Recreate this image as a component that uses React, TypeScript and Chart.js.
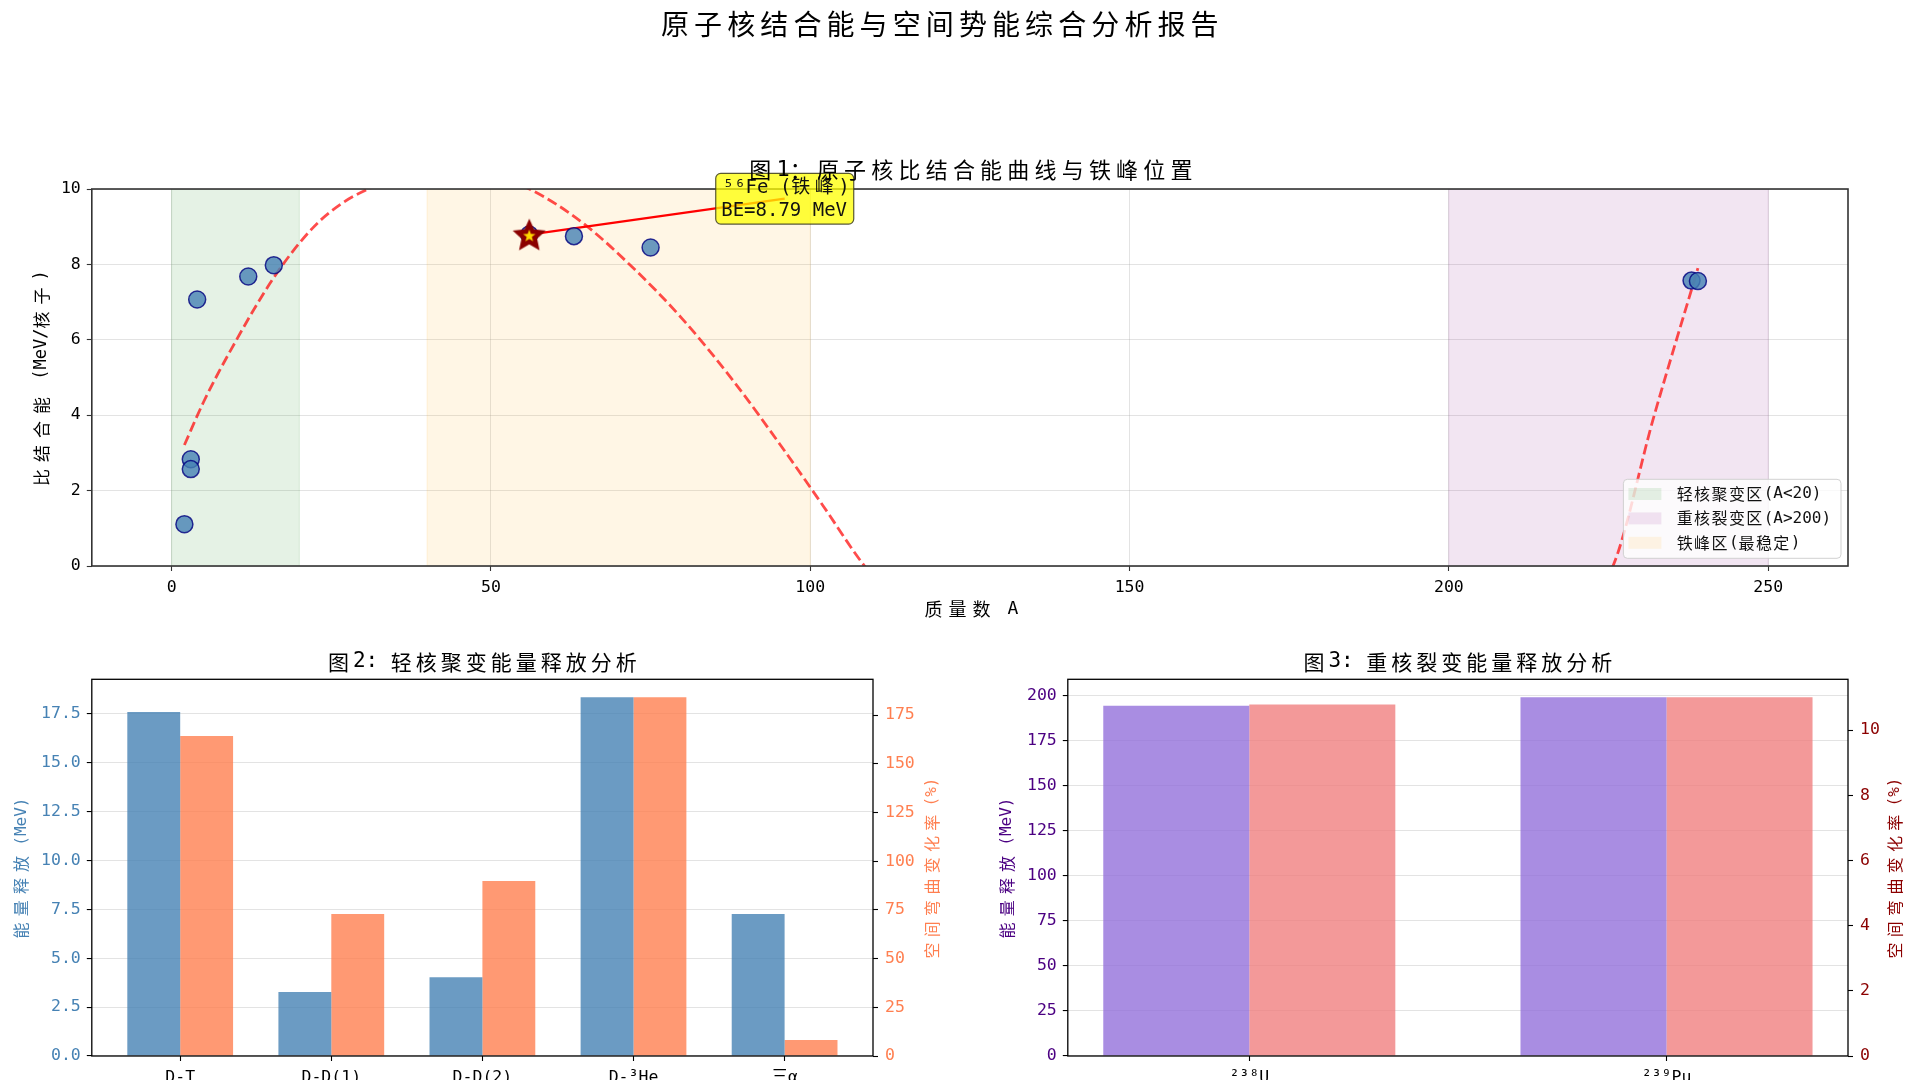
import React, { useEffect, useRef } from 'react';
import { Chart, registerables } from 'chart.js';

Chart.register(...registerables);

// ---------------- DATA ----------------
// Figure 1: specific binding energy vs mass number
const NUCLEUS_A = [2, 3, 3, 4, 12, 16, 56, 63, 75, 238, 239];
const NUCLEUS_BE = [1.11, 2.83, 2.57, 7.07, 7.68, 7.98, 8.79, 8.75, 8.45, 7.57, 7.56];
// dashed fitted trend (beyond-frame points estimated)
const FIT_A = [2, 5, 9.5, 16, 22, 26.5, 30.8, 43, 56, 64, 72, 80, 88, 96, 102, 108.5, 167, 225.7, 232, 239];
const FIT_BE = [3.21, 4.35, 5.8, 7.65, 8.95, 9.6, 10.0, 10.75, 10.0, 9.15, 7.95, 6.55, 4.9, 3.05, 1.6, 0, -11, 0, 3.9, 7.9];
const FE_A = 56;
const FE_BE = 8.79;
const FE_LABEL_LINES = ['⁵⁶Fe (铁峰)', 'BE=8.79 MeV'];
const FE_LABEL_POS = [85.2, 9.07]; // data coords of label box lower-left corner
const REGION_LABELS = ['轻核聚变区(A<20)', '重核裂变区(A>200)', '铁峰区(最稳定)'];
const REGION_START = [0, 200, 40];
const REGION_END = [20, 250, 100];
const X1_RANGE = [-12.5, 262.5];
const Y1_RANGE = [0, 10];
const X1_TICKS = [0, 50, 100, 150, 200, 250];
const Y1_TICKS = [0, 2, 4, 6, 8, 10];

// Figure 2: light nuclei fusion
const FUSION_LABELS = ['D-T', 'D-D(1)', 'D-D(2)', 'D-³He', '三α'];
const FUSION_ENERGY = [17.6, 3.27, 4.03, 18.35, 7.27];
const FUSION_CURVATURE = [164.3, 72.9, 89.8, 184.2, 8.2];
const FUSION_X_RANGE = [-0.585, 4.585];
const FUSION_Y_RANGE = [0, 19.27];
const FUSION_Y2_RANGE = [0, 193.4];
const FUSION_Y_TICKS = [0, 2.5, 5, 7.5, 10, 12.5, 15, 17.5];
const FUSION_Y2_TICKS = [0, 25, 50, 75, 100, 125, 150, 175];

// Figure 3: heavy nuclei fission
const FISSION_LABELS = ['²³⁸U', '²³⁹Pu'];
const FISSION_ENERGY = [194.2, 199.0];
const FISSION_CURVATURE = [10.79, 11.01];
const FISSION_X_RANGE = [-0.435, 1.435];
const FISSION_Y_RANGE = [0, 208.9];
const FISSION_Y2_RANGE = [0, 11.56];
const FISSION_Y_TICKS = [0, 25, 50, 75, 100, 125, 150, 175, 200];
const FISSION_Y2_TICKS = [0, 2, 4, 6, 8, 10];

// ---------------- STYLE ----------------
const LATIN_FONT = '"DejaVu Sans Mono"';
const CJK_FONT = '"Noto Sans CJK SC"';
const TICK_FAMILY = '"DejaVu Sans Mono", "Noto Sans CJK SC", monospace';
const TICK_SIZE = 16.5;
const REGION_COLORS = ['rgba(0,128,0,0.1)', 'rgba(128,0,128,0.1)', 'rgba(255,165,0,0.1)'];
const GRID = 'rgba(176,176,176,0.35)';

type TOpts = {
  size: number;
  cjkAdv: number;
  color: string;
  spaceAdv?: number;
  baseline?: CanvasTextBaseline;
};

const isCJK = (ch: string) => /[\u2E80-\u9FFF\uF900-\uFAFF\uFE30-\uFE4F\uFF00-\uFFEF\u3000-\u303F]/.test(ch);

function adv(ctx: CanvasRenderingContext2D, ch: string, o: TOpts) {
  if (isCJK(ch)) return o.cjkAdv;
  if (ch === ' ' && o.spaceAdv !== undefined) return o.spaceAdv;
  ctx.font = `${o.size}px ${LATIN_FONT}`;
  return ctx.measureText(ch).width;
}

function runWidth(ctx: CanvasRenderingContext2D, text: string, o: TOpts) {
  const chars = Array.from(text);
  let w = 0;
  chars.forEach((c, i) => {
    if (i === chars.length - 1 && isCJK(c)) w += o.size;
    else w += adv(ctx, c, o);
  });
  return w;
}

function drawRun(
  ctx: CanvasRenderingContext2D,
  text: string,
  x: number,
  y: number,
  o: TOpts,
  align: 'left' | 'center' = 'left',
  rotate = false
) {
  ctx.save();
  ctx.translate(x, y);
  if (rotate) ctx.rotate(-Math.PI / 2);
  const w = runWidth(ctx, text, o);
  let pen = align === 'center' ? -w / 2 : 0;
  ctx.fillStyle = o.color;
  ctx.textBaseline = o.baseline || 'middle';
  ctx.textAlign = 'left';
  for (const ch of Array.from(text)) {
    const a = adv(ctx, ch, o);
    ctx.font = `${o.size}px ${isCJK(ch) ? CJK_FONT : LATIN_FONT}`;
    ctx.fillText(ch, pen, 0);
    pen += a;
  }
  ctx.restore();
}

function roundRectPath(ctx: CanvasRenderingContext2D, x: number, y: number, w: number, h: number, r: number) {
  ctx.beginPath();
  ctx.moveTo(x + r, y);
  ctx.lineTo(x + w - r, y);
  ctx.arcTo(x + w, y, x + w, y + r, r);
  ctx.lineTo(x + w, y + h - r);
  ctx.arcTo(x + w, y + h, x + w - r, y + h, r);
  ctx.lineTo(x + r, y + h);
  ctx.arcTo(x, y + h, x, y + h - r, r);
  ctx.lineTo(x, y + r);
  ctx.arcTo(x, y, x + r, y, r);
  ctx.closePath();
}

function makeStarImage(): HTMLCanvasElement {
  const size = 40;
  const c = document.createElement('canvas');
  c.width = size;
  c.height = size;
  const g = c.getContext('2d')!;
  const star = (R: number, r: number, fill: string) => {
    g.beginPath();
    for (let i = 0; i < 10; i++) {
      const ang = -Math.PI / 2 + (i * Math.PI) / 5;
      const rad = i % 2 === 0 ? R : r;
      const px = size / 2 + rad * Math.cos(ang);
      const py = size / 2 + 1.5 + rad * Math.sin(ang);
      if (i === 0) g.moveTo(px, py);
      else g.lineTo(px, py);
    }
    g.closePath();
    g.fillStyle = fill;
    g.fill();
  };
  star(17.5, 8.2, '#8b0000');
  star(6.5, 2.7, '#ffd700');
  return c;
}

function frame(chart: any, color: string, width: number) {
  const { ctx, chartArea: a } = chart;
  ctx.save();
  ctx.strokeStyle = color;
  ctx.lineWidth = width;
  ctx.strokeRect(a.left, a.top, a.right - a.left, a.bottom - a.top);
  ctx.restore();
}

const tickFont = { family: TICK_FAMILY, size: TICK_SIZE };

function fixedTicks(values: number[]) {
  return (s: any) => {
    s.ticks = values.map((v) => ({ value: v }));
  };
}

// ---------------- CHART 1 ----------------
function buildChart1(canvas: HTMLCanvasElement) {
  const starImg = makeStarImage();
  const plugin = {
    id: 'fig1',
    beforeDatasetsDraw(chart: any) {
      const { ctx, chartArea: a, scales } = chart;
      const x = scales.x;
      const y = scales.y;
      ctx.save();
      ctx.beginPath();
      ctx.rect(a.left, a.top, a.right - a.left, a.bottom - a.top);
      ctx.clip();
      REGION_START.forEach((s, i) => {
        const x0 = x.getPixelForValue(s);
        const x1 = x.getPixelForValue(REGION_END[i]);
        ctx.fillStyle = REGION_COLORS[i];
        ctx.fillRect(x0, a.top, x1 - x0, a.bottom - a.top);
        ctx.strokeStyle = REGION_COLORS[i];
        ctx.lineWidth = 1.2;
        ctx.beginPath();
        ctx.moveTo(x0, a.top);
        ctx.lineTo(x0, a.bottom);
        ctx.moveTo(x1, a.top);
        ctx.lineTo(x1, a.bottom);
        ctx.stroke();
      });
      ctx.restore();
      // arrow from label box centre to the iron star
      const bx = x.getPixelForValue(FE_LABEL_POS[0]);
      const by = y.getPixelForValue(FE_LABEL_POS[1]);
      const cx = bx + 69;
      const cy = by - 25.4;
      const sx = x.getPixelForValue(FE_A);
      const sy = y.getPixelForValue(FE_BE);
      ctx.save();
      ctx.strokeStyle = '#ff0000';
      ctx.lineWidth = 2.2;
      ctx.beginPath();
      ctx.moveTo(cx, cy);
      ctx.lineTo(sx, sy);
      ctx.stroke();
      ctx.restore();
    },
    afterDatasetsDraw(chart: any) {
      frame(chart, '#333333', 1.6);
    },
    afterDraw(chart: any) {
      const { ctx, chartArea: a, scales } = chart;
      const x = scales.x;
      const y = scales.y;
      // legend
      const lw = 217.6;
      const lh = 79;
      const lx = a.right - 7 - lw;
      const ly = a.bottom - 7.7 - lh;
      ctx.save();
      roundRectPath(ctx, lx, ly, lw, lh, 4);
      ctx.fillStyle = 'rgba(255,255,255,0.8)';
      ctx.fill();
      ctx.strokeStyle = 'rgba(204,204,204,0.9)';
      ctx.lineWidth = 1;
      ctx.stroke();
      REGION_LABELS.forEach((lab, i) => {
        const ry = ly + 14.7 + i * 24.4;
        ctx.fillStyle = REGION_COLORS[i];
        ctx.fillRect(lx + 5, ry - 6, 33, 12);
        drawRun(ctx, lab, lx + 53.3, ry, { size: 16, cjkAdv: 17.4, color: '#111' });
      });
      ctx.restore();
      // annotation box
      const bx = x.getPixelForValue(FE_LABEL_POS[0]);
      const by = y.getPixelForValue(FE_LABEL_POS[1]);
      ctx.save();
      roundRectPath(ctx, bx, by - 50.7, 138, 50.7, 5);
      ctx.fillStyle = 'rgba(255,255,0,0.75)';
      ctx.fill();
      ctx.strokeStyle = 'rgba(60,60,30,0.85)';
      ctx.lineWidth = 1.2;
      ctx.stroke();
      const ao: TOpts = { size: 19, cjkAdv: 23.5, color: '#111', baseline: 'alphabetic' };
      drawRun(ctx, FE_LABEL_LINES[0], bx + 7, by - 30.7, ao);
      drawRun(ctx, FE_LABEL_LINES[1], bx + 5.5, by - 8, ao);
      ctx.restore();
      // titles and axis labels
      const midX = (a.left + a.right) / 2;
      drawRun(ctx, '原子核结合能与空间势能综合分析报告', 661, 24, { size: 28, cjkAdv: 33.1, color: '#000' });
      drawRun(ctx, '图1：原子核比结合能曲线与铁峰位置', midX + 1, a.top - 19, { size: 22, cjkAdv: 27.2, color: '#000' }, 'center');
      drawRun(ctx, '质量数 A', midX + 1.5, a.bottom + 43.5, { size: 18, cjkAdv: 24, color: '#000' }, 'center');
      drawRun(ctx, '比结合能 (MeV/核子)', 42, 486, { size: 17, cjkAdv: 24, color: '#000' }, 'left', true);
    },
  };

  return new Chart(canvas, {
    type: 'scatter',
    data: {
      datasets: [
        {
          type: 'scatter',
          data: [{ x: FE_A, y: FE_BE }],
          pointStyle: starImg as any,
          pointRadius: 16,
          order: 0,
        } as any,
        {
          type: 'scatter',
          data: NUCLEUS_A.map((a, i) => ({ x: a, y: NUCLEUS_BE[i] })),
          backgroundColor: 'rgba(70,130,180,0.8)',
          borderColor: 'rgba(0,0,128,0.8)',
          borderWidth: 1.5,
          pointRadius: 8.5,
          order: 1,
        },
        {
          type: 'line',
          data: FIT_A.map((a, i) => ({ x: a, y: FIT_BE[i] })),
          borderColor: 'rgba(255,0,0,0.7)',
          borderWidth: 2.8,
          borderDash: [10.3, 4.4],
          pointRadius: 0,
          fill: false,
          cubicInterpolationMode: 'monotone',
          clip: 0,
          order: 2,
        } as any,
      ],
    },
    options: {
      responsive: false,
      animation: false,
      devicePixelRatio: 1,
      layout: { padding: { top: 189, right: 72, bottom: 0, left: 0 } },
      plugins: { legend: { display: false }, title: { display: false }, tooltip: { enabled: false } },
      events: [],
      scales: {
        x: {
          type: 'linear',
          min: X1_RANGE[0],
          max: X1_RANGE[1],
          afterBuildTicks: fixedTicks(X1_TICKS),
          afterFit: (s: any) => {
            s.height = 64;
          },
          ticks: { font: tickFont, color: '#000', padding: 7, callback: (v: any) => String(v) },
          grid: { color: GRID, lineWidth: 1, tickColor: '#333', tickLength: 5, tickWidth: 1.1 },
          border: { display: false },
        },
        y: {
          type: 'linear',
          min: Y1_RANGE[0],
          max: Y1_RANGE[1],
          afterBuildTicks: fixedTicks(Y1_TICKS),
          afterFit: (s: any) => {
            s.width = 91.8;
          },
          ticks: { font: tickFont, color: '#000', padding: 6, callback: (v: any) => String(v) },
          grid: { color: GRID, lineWidth: 1, tickColor: '#333', tickLength: 5, tickWidth: 1.1 },
          border: { display: false },
        },
      },
    } as any,
    plugins: [plugin],
  });
}

// ---------------- BAR CHARTS ----------------
type BarSpec = {
  title: string;
  labels: string[];
  left: number[];
  right: number[];
  xRange: number[];
  yRange: number[];
  y2Range: number[];
  yTicks: number[];
  y2Ticks: number[];
  leftColor: string;
  rightColor: string;
  leftAxisColor: string;
  rightAxisColor: string;
  leftTitle: string;
  rightTitle: string;
  yWidth: number;
  y2Width: number;
  yFmt: (v: number) => string;
  leftLabelX: number;
  rightLabelX: number;
};

function buildBarChart(canvas: HTMLCanvasElement, s: BarSpec) {
  const plugin = {
    id: 'barfig',
    afterDatasetsDraw(chart: any) {
      frame(chart, '#000', 1.3);
    },
    afterDraw(chart: any) {
      const { ctx, chartArea: a } = chart;
      const midX = (a.left + a.right) / 2;
      drawRun(ctx, s.title, midX, a.top - 17.6, { size: 21, cjkAdv: 25, color: '#000' }, 'center');
      drawRun(ctx, s.leftTitle, s.leftLabelX, 238, { size: 16, cjkAdv: 22.2, color: s.leftAxisColor, spaceAdv: 4 }, 'center', true);
      drawRun(ctx, s.rightTitle, s.rightLabelX, 238, { size: 16, cjkAdv: 21.3, color: s.rightAxisColor, spaceAdv: 3 }, 'center', true);
    },
  };
  return new Chart(canvas, {
    type: 'bar',
    data: {
      datasets: [
        {
          data: s.left.map((v, i) => ({ x: i, y: v })),
          backgroundColor: s.leftColor,
          yAxisID: 'y',
          categoryPercentage: 0.7,
          barPercentage: 1.0,
        },
        {
          data: s.right.map((v, i) => ({ x: i, y: v })),
          backgroundColor: s.rightColor,
          yAxisID: 'y2',
          categoryPercentage: 0.7,
          barPercentage: 1.0,
        },
      ],
    },
    options: {
      responsive: false,
      animation: false,
      devicePixelRatio: 1,
      events: [],
      layout: { padding: { top: 49.3, right: 0, bottom: 0, left: 0 } },
      plugins: { legend: { display: false }, title: { display: false }, tooltip: { enabled: false } },
      scales: {
        x: {
          type: 'linear',
          offset: false,
          min: s.xRange[0],
          max: s.xRange[1],
          afterBuildTicks: fixedTicks(s.labels.map((_, i) => i)),
          afterFit: (sc: any) => {
            sc.height = 24;
          },
          ticks: {
            font: tickFont,
            color: '#000',
            padding: 7,
            callback: (v: any) => s.labels[Math.round(Number(v))] ?? '',
          },
          grid: {
            offset: false,
            drawOnChartArea: false,
            color: '#000',
            tickColor: '#000',
            tickLength: 5,
            tickWidth: 1.1,
          },
          border: { display: false },
        },
        y: {
          type: 'linear',
          position: 'left',
          min: s.yRange[0],
          max: s.yRange[1],
          afterBuildTicks: fixedTicks(s.yTicks),
          afterFit: (sc: any) => {
            sc.width = s.yWidth;
          },
          ticks: { font: tickFont, color: s.leftAxisColor, padding: 6, callback: (v: any) => s.yFmt(Number(v)) },
          grid: { color: GRID, lineWidth: 1.1, tickColor: '#000', tickLength: 5, tickWidth: 1.1 },
          border: { display: false },
        },
        y2: {
          type: 'linear',
          position: 'right',
          min: s.y2Range[0],
          max: s.y2Range[1],
          afterBuildTicks: fixedTicks(s.y2Ticks),
          afterFit: (sc: any) => {
            sc.width = s.y2Width;
          },
          ticks: { font: tickFont, color: s.rightAxisColor, padding: 7, callback: (v: any) => String(v) },
          grid: { drawOnChartArea: false, color: '#000', tickColor: '#000', tickLength: 5, tickWidth: 1.1 },
          border: { display: false },
        },
      },
    } as any,
    plugins: [plugin],
  });
}

export default function App() {
  const c1 = useRef<HTMLCanvasElement>(null);
  const c2 = useRef<HTMLCanvasElement>(null);
  const c3 = useRef<HTMLCanvasElement>(null);

  useEffect(() => {
    document.body.style.margin = '0';
    document.body.style.overflow = 'hidden';
    const charts: Chart[] = [];
    charts.push(buildChart1(c1.current!));
    charts.push(
      buildBarChart(c2.current!, {
        title: '图2: 轻核聚变能量释放分析',
        labels: FUSION_LABELS,
        left: FUSION_ENERGY,
        right: FUSION_CURVATURE,
        xRange: FUSION_X_RANGE,
        yRange: FUSION_Y_RANGE,
        y2Range: FUSION_Y2_RANGE,
        yTicks: FUSION_Y_TICKS,
        y2Ticks: FUSION_Y2_TICKS,
        leftColor: 'rgba(70,130,180,0.8)',
        rightColor: 'rgba(255,127,80,0.8)',
        leftAxisColor: '#4682b4',
        rightAxisColor: '#ff7f50',
        leftTitle: '能量释放 (MeV)',
        rightTitle: '空间弯曲变化率 (%)',
        yWidth: 91.8,
        y2Width: 87,
        yFmt: (v) => v.toFixed(1),
        leftLabelX: 21.4,
        rightLabelX: 932,
      })
    );
    charts.push(
      buildBarChart(c3.current!, {
        title: '图3: 重核裂变能量释放分析',
        labels: FISSION_LABELS,
        left: FISSION_ENERGY,
        right: FISSION_CURVATURE,
        xRange: FISSION_X_RANGE,
        yRange: FISSION_Y_RANGE,
        y2Range: FISSION_Y2_RANGE,
        yTicks: FISSION_Y_TICKS,
        y2Ticks: FISSION_Y2_TICKS,
        leftColor: 'rgba(147,112,219,0.8)',
        rightColor: 'rgba(240,128,128,0.8)',
        leftAxisColor: '#4b0082',
        rightAxisColor: '#8b0000',
        leftTitle: '能量释放 (MeV)',
        rightTitle: '空间弯曲变化率 (%)',
        yWidth: 107.8,
        y2Width: 72,
        yFmt: (v) => String(v),
        leftLabelX: 47,
        rightLabelX: 935,
      })
    );
    return () => charts.forEach((c) => c.destroy());
  }, []);

  return (
    <div style={{ position: 'relative', width: 1920, height: 1080, overflow: 'hidden', background: '#fff' }}>
      <canvas ref={c1} width={1920} height={630} style={{ position: 'absolute', left: 0, top: 0 }} />
      <canvas ref={c2} width={960} height={450} style={{ position: 'absolute', left: 0, top: 630 }} />
      <canvas ref={c3} width={960} height={450} style={{ position: 'absolute', left: 960, top: 630 }} />
    </div>
  );
}
